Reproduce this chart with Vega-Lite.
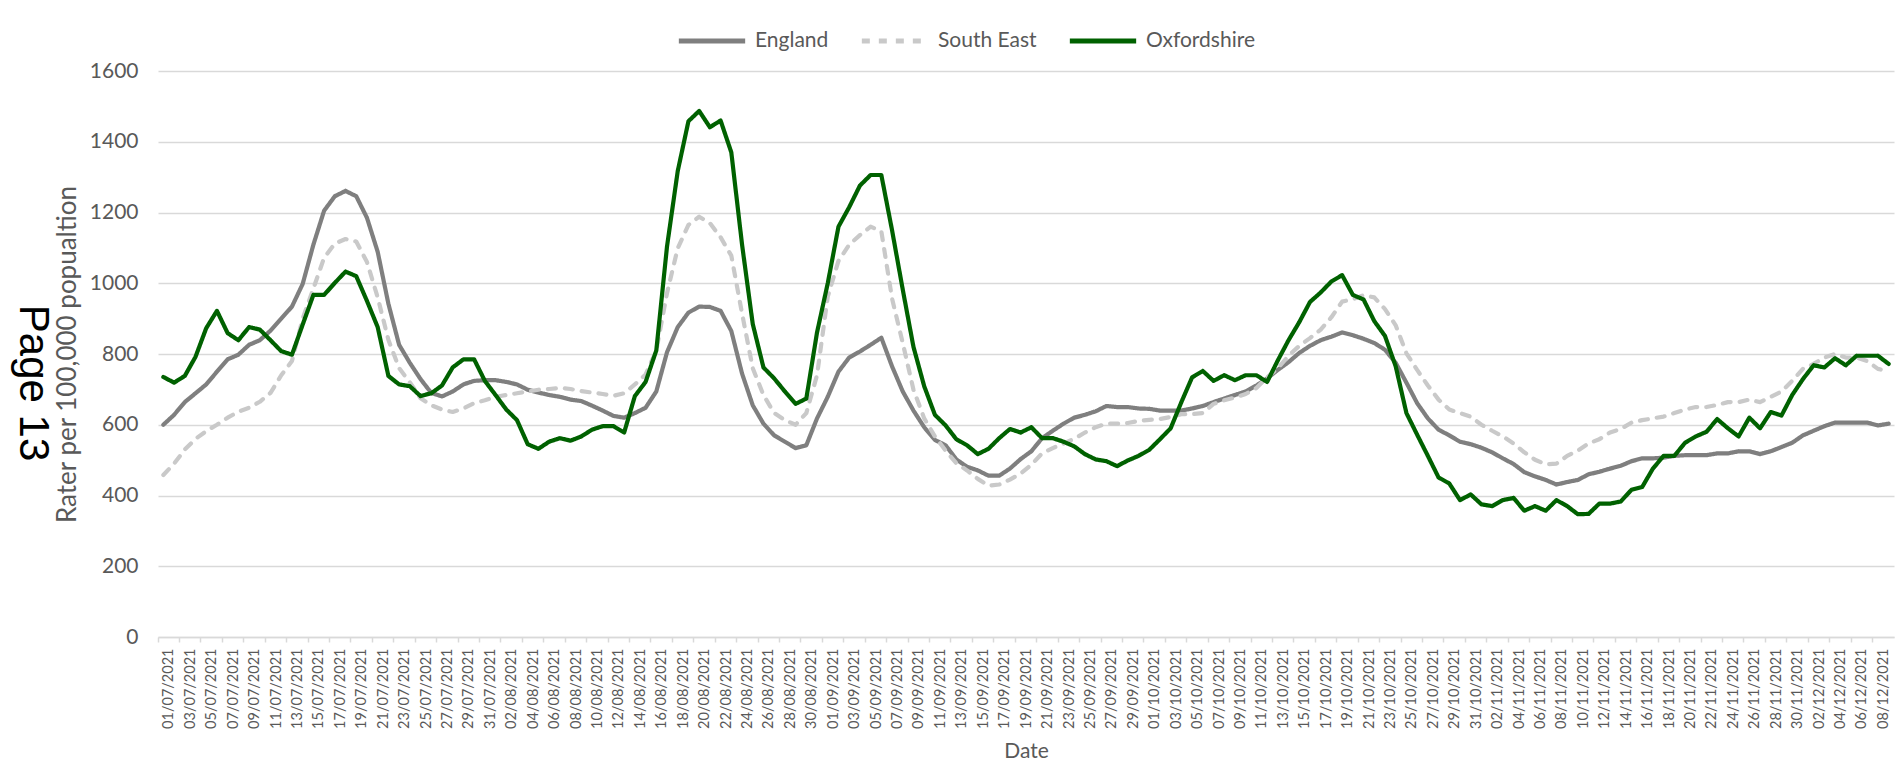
{
  "$schema": "https://vega.github.io/schema/vega-lite/v6.json",
  "width": 1736,
  "height": 566,
  "autosize": "none",
  "padding": {"left": 158, "top": 71, "right": 6, "bottom": 126},
  "background": "white",
  "title": {"text": "Page 13", "orient": "left", "angle": 90, "baseline": "top", "align": "center", "fontSize": 42, "font": "Liberation Sans", "fontWeight": "normal", "color": "#000000", "offset": -41, "dx": 29},
  "data": {"values": [
    {"date": "01/07/2021", "England": 600, "South East": 458, "Oxfordshire": 735},
    {"date": "02/07/2021", "England": 628, "South East": 490, "Oxfordshire": 719},
    {"date": "03/07/2021", "England": 664, "South East": 530, "Oxfordshire": 738},
    {"date": "04/07/2021", "England": 689, "South East": 560, "Oxfordshire": 792},
    {"date": "05/07/2021", "England": 714, "South East": 582, "Oxfordshire": 873},
    {"date": "06/07/2021", "England": 750, "South East": 600, "Oxfordshire": 922},
    {"date": "07/07/2021", "England": 785, "South East": 620, "Oxfordshire": 859},
    {"date": "08/07/2021", "England": 798, "South East": 637, "Oxfordshire": 839},
    {"date": "09/07/2021", "England": 826, "South East": 648, "Oxfordshire": 876},
    {"date": "10/07/2021", "England": 839, "South East": 665, "Oxfordshire": 869},
    {"date": "11/07/2021", "England": 866, "South East": 690, "Oxfordshire": 839},
    {"date": "12/07/2021", "England": 900, "South East": 740, "Oxfordshire": 808},
    {"date": "13/07/2021", "England": 934, "South East": 780, "Oxfordshire": 798},
    {"date": "14/07/2021", "England": 998, "South East": 900, "Oxfordshire": 883},
    {"date": "15/07/2021", "England": 1109, "South East": 985, "Oxfordshire": 967},
    {"date": "16/07/2021", "England": 1205, "South East": 1072, "Oxfordshire": 967},
    {"date": "17/07/2021", "England": 1246, "South East": 1112, "Oxfordshire": 1001},
    {"date": "18/07/2021", "England": 1261, "South East": 1125, "Oxfordshire": 1033},
    {"date": "19/07/2021", "England": 1246, "South East": 1118, "Oxfordshire": 1020},
    {"date": "20/07/2021", "England": 1185, "South East": 1060, "Oxfordshire": 950},
    {"date": "21/07/2021", "England": 1089, "South East": 960, "Oxfordshire": 876},
    {"date": "22/07/2021", "England": 942, "South East": 840, "Oxfordshire": 738},
    {"date": "23/07/2021", "England": 826, "South East": 760, "Oxfordshire": 714},
    {"date": "24/07/2021", "England": 775, "South East": 720, "Oxfordshire": 709},
    {"date": "25/07/2021", "England": 729, "South East": 675, "Oxfordshire": 681},
    {"date": "26/07/2021", "England": 690, "South East": 655, "Oxfordshire": 689},
    {"date": "27/07/2021", "England": 680, "South East": 643, "Oxfordshire": 711},
    {"date": "28/07/2021", "England": 694, "South East": 636, "Oxfordshire": 762},
    {"date": "29/07/2021", "England": 714, "South East": 646, "Oxfordshire": 785},
    {"date": "30/07/2021", "England": 724, "South East": 661, "Oxfordshire": 785},
    {"date": "31/07/2021", "England": 726, "South East": 669, "Oxfordshire": 724},
    {"date": "01/08/2021", "England": 726, "South East": 679, "Oxfordshire": 684},
    {"date": "02/08/2021", "England": 721, "South East": 684, "Oxfordshire": 643},
    {"date": "03/08/2021", "England": 714, "South East": 689, "Oxfordshire": 613},
    {"date": "04/08/2021", "England": 699, "South East": 694, "Oxfordshire": 545},
    {"date": "05/08/2021", "England": 691, "South East": 699, "Oxfordshire": 532},
    {"date": "06/08/2021", "England": 684, "South East": 701, "Oxfordshire": 552},
    {"date": "07/08/2021", "England": 679, "South East": 704, "Oxfordshire": 562},
    {"date": "08/08/2021", "England": 671, "South East": 701, "Oxfordshire": 555},
    {"date": "09/08/2021", "England": 667, "South East": 695, "Oxfordshire": 567},
    {"date": "10/08/2021", "England": 654, "South East": 691, "Oxfordshire": 586},
    {"date": "11/08/2021", "England": 640, "South East": 687, "Oxfordshire": 596},
    {"date": "12/08/2021", "England": 625, "South East": 682, "Oxfordshire": 596},
    {"date": "13/08/2021", "England": 620, "South East": 689, "Oxfordshire": 578},
    {"date": "14/08/2021", "England": 633, "South East": 714, "Oxfordshire": 681},
    {"date": "15/08/2021", "England": 648, "South East": 742, "Oxfordshire": 721},
    {"date": "16/08/2021", "England": 694, "South East": 810, "Oxfordshire": 810},
    {"date": "17/08/2021", "England": 805, "South East": 972, "Oxfordshire": 1104},
    {"date": "18/08/2021", "England": 876, "South East": 1099, "Oxfordshire": 1317},
    {"date": "19/08/2021", "England": 917, "South East": 1165, "Oxfordshire": 1458},
    {"date": "20/08/2021", "England": 934, "South East": 1188, "Oxfordshire": 1487},
    {"date": "21/08/2021", "England": 933, "South East": 1170, "Oxfordshire": 1441},
    {"date": "22/08/2021", "England": 922, "South East": 1130, "Oxfordshire": 1460},
    {"date": "23/08/2021", "England": 865, "South East": 1078, "Oxfordshire": 1370},
    {"date": "24/08/2021", "England": 745, "South East": 915, "Oxfordshire": 1110},
    {"date": "25/08/2021", "England": 655, "South East": 760, "Oxfordshire": 885},
    {"date": "26/08/2021", "England": 603, "South East": 684, "Oxfordshire": 762},
    {"date": "27/08/2021", "England": 570, "South East": 633, "Oxfordshire": 731},
    {"date": "28/08/2021", "England": 552, "South East": 613, "Oxfordshire": 694},
    {"date": "29/08/2021", "England": 534, "South East": 600, "Oxfordshire": 659},
    {"date": "30/08/2021", "England": 542, "South East": 633, "Oxfordshire": 674},
    {"date": "31/08/2021", "England": 618, "South East": 740, "Oxfordshire": 861},
    {"date": "01/09/2021", "England": 679, "South East": 962, "Oxfordshire": 1000},
    {"date": "02/09/2021", "England": 750, "South East": 1063, "Oxfordshire": 1160},
    {"date": "03/09/2021", "England": 790, "South East": 1109, "Oxfordshire": 1215},
    {"date": "04/09/2021", "England": 807, "South East": 1136, "Oxfordshire": 1276},
    {"date": "05/09/2021", "England": 826, "South East": 1160, "Oxfordshire": 1306},
    {"date": "06/09/2021", "England": 846, "South East": 1147, "Oxfordshire": 1306},
    {"date": "07/09/2021", "England": 765, "South East": 957, "Oxfordshire": 1150},
    {"date": "08/09/2021", "England": 694, "South East": 831, "Oxfordshire": 982},
    {"date": "09/09/2021", "England": 640, "South East": 699, "Oxfordshire": 820},
    {"date": "10/09/2021", "England": 593, "South East": 618, "Oxfordshire": 709},
    {"date": "11/09/2021", "England": 557, "South East": 567, "Oxfordshire": 628},
    {"date": "12/09/2021", "England": 542, "South East": 527, "Oxfordshire": 598},
    {"date": "13/09/2021", "England": 502, "South East": 491, "Oxfordshire": 559},
    {"date": "14/09/2021", "England": 481, "South East": 471, "Oxfordshire": 542},
    {"date": "15/09/2021", "England": 471, "South East": 447, "Oxfordshire": 517},
    {"date": "16/09/2021", "England": 456, "South East": 428, "Oxfordshire": 532},
    {"date": "17/09/2021", "England": 456, "South East": 431, "Oxfordshire": 562},
    {"date": "18/09/2021", "England": 476, "South East": 445, "Oxfordshire": 588},
    {"date": "19/09/2021", "England": 503, "South East": 462, "Oxfordshire": 578},
    {"date": "20/09/2021", "England": 525, "South East": 487, "Oxfordshire": 593},
    {"date": "21/09/2021", "England": 562, "South East": 519, "Oxfordshire": 562},
    {"date": "22/09/2021", "England": 583, "South East": 534, "Oxfordshire": 562},
    {"date": "23/09/2021", "England": 603, "South East": 547, "Oxfordshire": 552},
    {"date": "24/09/2021", "England": 620, "South East": 560, "Oxfordshire": 539},
    {"date": "25/09/2021", "England": 628, "South East": 578, "Oxfordshire": 517},
    {"date": "26/09/2021", "England": 638, "South East": 593, "Oxfordshire": 502},
    {"date": "27/09/2021", "England": 653, "South East": 603, "Oxfordshire": 497},
    {"date": "28/09/2021", "England": 650, "South East": 603, "Oxfordshire": 483},
    {"date": "29/09/2021", "England": 650, "South East": 605, "Oxfordshire": 499},
    {"date": "30/09/2021", "England": 646, "South East": 611, "Oxfordshire": 512},
    {"date": "01/10/2021", "England": 645, "South East": 614, "Oxfordshire": 529},
    {"date": "02/10/2021", "England": 640, "South East": 616, "Oxfordshire": 559},
    {"date": "03/10/2021", "England": 640, "South East": 622, "Oxfordshire": 590},
    {"date": "04/10/2021", "England": 640, "South East": 630, "Oxfordshire": 664},
    {"date": "05/10/2021", "England": 646, "South East": 630, "Oxfordshire": 734},
    {"date": "06/10/2021", "England": 653, "South East": 633, "Oxfordshire": 752},
    {"date": "07/10/2021", "England": 664, "South East": 659, "Oxfordshire": 724},
    {"date": "08/10/2021", "England": 674, "South East": 669, "Oxfordshire": 740},
    {"date": "09/10/2021", "England": 684, "South East": 677, "Oxfordshire": 726},
    {"date": "10/10/2021", "England": 694, "South East": 687, "Oxfordshire": 740},
    {"date": "11/10/2021", "England": 711, "South East": 704, "Oxfordshire": 740},
    {"date": "12/10/2021", "England": 731, "South East": 734, "Oxfordshire": 721},
    {"date": "13/10/2021", "England": 755, "South East": 760, "Oxfordshire": 782},
    {"date": "14/10/2021", "England": 777, "South East": 795, "Oxfordshire": 839},
    {"date": "15/10/2021", "England": 803, "South East": 823, "Oxfordshire": 890},
    {"date": "16/10/2021", "England": 823, "South East": 845, "Oxfordshire": 947},
    {"date": "17/10/2021", "England": 839, "South East": 869, "Oxfordshire": 974},
    {"date": "18/10/2021", "England": 849, "South East": 904, "Oxfordshire": 1005},
    {"date": "19/10/2021", "England": 861, "South East": 948, "Oxfordshire": 1023},
    {"date": "20/10/2021", "England": 853, "South East": 955, "Oxfordshire": 967},
    {"date": "21/10/2021", "England": 843, "South East": 966, "Oxfordshire": 954},
    {"date": "22/10/2021", "England": 831, "South East": 960, "Oxfordshire": 893},
    {"date": "23/10/2021", "England": 812, "South East": 927, "Oxfordshire": 851},
    {"date": "24/10/2021", "England": 775, "South East": 881, "Oxfordshire": 765},
    {"date": "25/10/2021", "England": 719, "South East": 802, "Oxfordshire": 633},
    {"date": "26/10/2021", "England": 661, "South East": 755, "Oxfordshire": 572},
    {"date": "27/10/2021", "England": 618, "South East": 711, "Oxfordshire": 512},
    {"date": "28/10/2021", "England": 586, "South East": 671, "Oxfordshire": 451},
    {"date": "29/10/2021", "England": 570, "South East": 643, "Oxfordshire": 434},
    {"date": "30/10/2021", "England": 552, "South East": 633, "Oxfordshire": 387},
    {"date": "31/10/2021", "England": 545, "South East": 623, "Oxfordshire": 403},
    {"date": "01/11/2021", "England": 535, "South East": 600, "Oxfordshire": 375},
    {"date": "02/11/2021", "England": 522, "South East": 583, "Oxfordshire": 370},
    {"date": "03/11/2021", "England": 505, "South East": 567, "Oxfordshire": 387},
    {"date": "04/11/2021", "England": 489, "South East": 547, "Oxfordshire": 393},
    {"date": "05/11/2021", "England": 466, "South East": 522, "Oxfordshire": 357},
    {"date": "06/11/2021", "England": 454, "South East": 501, "Oxfordshire": 370},
    {"date": "07/11/2021", "England": 444, "South East": 488, "Oxfordshire": 357},
    {"date": "08/11/2021", "England": 431, "South East": 490, "Oxfordshire": 387},
    {"date": "09/11/2021", "England": 438, "South East": 512, "Oxfordshire": 370},
    {"date": "10/11/2021", "England": 444, "South East": 527, "Oxfordshire": 347},
    {"date": "11/11/2021", "England": 460, "South East": 547, "Oxfordshire": 348},
    {"date": "12/11/2021", "England": 467, "South East": 559, "Oxfordshire": 377},
    {"date": "13/11/2021", "England": 476, "South East": 578, "Oxfordshire": 377},
    {"date": "14/11/2021", "England": 484, "South East": 588, "Oxfordshire": 383},
    {"date": "15/11/2021", "England": 497, "South East": 606, "Oxfordshire": 416},
    {"date": "16/11/2021", "England": 505, "South East": 613, "Oxfordshire": 424},
    {"date": "17/11/2021", "England": 505, "South East": 618, "Oxfordshire": 476},
    {"date": "18/11/2021", "England": 507, "South East": 623, "Oxfordshire": 512},
    {"date": "19/11/2021", "England": 512, "South East": 633, "Oxfordshire": 512},
    {"date": "20/11/2021", "England": 514, "South East": 643, "Oxfordshire": 549},
    {"date": "21/11/2021", "England": 514, "South East": 650, "Oxfordshire": 567},
    {"date": "22/11/2021", "England": 514, "South East": 650, "Oxfordshire": 580},
    {"date": "23/11/2021", "England": 519, "South East": 656, "Oxfordshire": 616},
    {"date": "24/11/2021", "England": 519, "South East": 664, "Oxfordshire": 590},
    {"date": "25/11/2021", "England": 525, "South East": 664, "Oxfordshire": 567},
    {"date": "26/11/2021", "England": 525, "South East": 671, "Oxfordshire": 620},
    {"date": "27/11/2021", "England": 517, "South East": 664, "Oxfordshire": 590},
    {"date": "28/11/2021", "England": 525, "South East": 679, "Oxfordshire": 636},
    {"date": "29/11/2021", "England": 537, "South East": 694, "Oxfordshire": 626},
    {"date": "30/11/2021", "England": 549, "South East": 724, "Oxfordshire": 684},
    {"date": "01/12/2021", "England": 570, "South East": 758, "Oxfordshire": 729},
    {"date": "02/12/2021", "England": 583, "South East": 772, "Oxfordshire": 768},
    {"date": "03/12/2021", "England": 596, "South East": 790, "Oxfordshire": 762},
    {"date": "04/12/2021", "England": 606, "South East": 800, "Oxfordshire": 788},
    {"date": "05/12/2021", "England": 606, "South East": 790, "Oxfordshire": 768},
    {"date": "06/12/2021", "England": 606, "South East": 790, "Oxfordshire": 795},
    {"date": "07/12/2021", "England": 606, "South East": 780, "Oxfordshire": 795},
    {"date": "08/12/2021", "England": 598, "South East": 758, "Oxfordshire": 795},
    {"date": "09/12/2021", "England": 603, "South East": 750, "Oxfordshire": 772}
  ]},
  "transform": [
    {"fold": ["England", "South East", "Oxfordshire"], "as": ["series", "rate"]}
  ],
  "mark": {"type": "line", "strokeWidth": 4.2, "strokeCap": "round", "strokeJoin": "round"},
  "encoding": {
    "x": {
      "field": "date", "type": "ordinal", "sort": null, "bandPosition": 0.5,
      "scale": {"type": "band", "paddingInner": 0, "paddingOuter": 0},
      "axis": {
        "title": "Date",
        "values": ["01/07/2021","03/07/2021","05/07/2021","07/07/2021","09/07/2021","11/07/2021","13/07/2021","15/07/2021","17/07/2021","19/07/2021","21/07/2021","23/07/2021","25/07/2021","27/07/2021","29/07/2021","31/07/2021","02/08/2021","04/08/2021","06/08/2021","08/08/2021","10/08/2021","12/08/2021","14/08/2021","16/08/2021","18/08/2021","20/08/2021","22/08/2021","24/08/2021","26/08/2021","28/08/2021","30/08/2021","01/09/2021","03/09/2021","05/09/2021","07/09/2021","09/09/2021","11/09/2021","13/09/2021","15/09/2021","17/09/2021","19/09/2021","21/09/2021","23/09/2021","25/09/2021","27/09/2021","29/09/2021","01/10/2021","03/10/2021","05/10/2021","07/10/2021","09/10/2021","11/10/2021","13/10/2021","15/10/2021","17/10/2021","19/10/2021","21/10/2021","23/10/2021","25/10/2021","27/10/2021","29/10/2021","31/10/2021","02/11/2021","04/11/2021","06/11/2021","08/11/2021","10/11/2021","12/11/2021","14/11/2021","16/11/2021","18/11/2021","20/11/2021","22/11/2021","24/11/2021","26/11/2021","28/11/2021","30/11/2021","02/12/2021","04/12/2021","06/12/2021","08/12/2021"],
        "bandPosition": 0,
        "labelAngle": -90,
        "labelOffset": 6,
        "labelFontSize": 14.5,
        "labelFont": "Lato",
        "labelColor": "#595959",
        "labelPadding": 6,
        "tickSize": 5,
        "tickColor": "#d9d9d9",
        "tickWidth": 1.5,
        "domainColor": "#d9d9d9",
        "domainWidth": 1.5,
        "grid": false,
        "titleFont": "Lato",
        "titleFontSize": 21,
        "titleFontWeight": "normal",
        "titleColor": "#595959",
        "titlePadding": 12
      }
    },
    "y": {
      "field": "rate", "type": "quantitative",
      "scale": {"domain": [0, 1600], "nice": false, "zero": true},
      "axis": {
        "title": "Rater per 100,000 popualtion",
        "values": [0, 200, 400, 600, 800, 1000, 1200, 1400, 1600],
        "format": "d",
        "grid": true,
        "gridColor": "#d9d9d9",
        "gridWidth": 1.4,
        "domain": false,
        "ticks": false,
        "labelFont": "Lato",
        "labelFontSize": 21,
        "labelColor": "#595959",
        "labelPadding": 20,
        "titleFont": "Lato",
        "titleFontSize": 26,
        "titleFontWeight": "normal",
        "titleColor": "#595959",
        "titlePadding": 9
      }
    },
    "color": {
      "field": "series", "type": "nominal",
      "scale": {"domain": ["England", "South East", "Oxfordshire"], "range": ["#7f7f7f", "#c9c9c9", "#006100"]},
      "legend": {
        "title": null,
        "orient": "none",
        "direction": "horizontal",
        "legendX": 518,
        "legendY": -66,
        "symbolType": "stroke",
        "symbolSize": 4400,
        "symbolStrokeWidth": 5,
        "labelFont": "Lato",
        "labelFontSize": 21,
        "labelColor": "#595959",
        "labelOffset": 7,
        "columnPadding": 22,
        "padding": 0
      }
    },
    "strokeDash": {
      "field": "series", "type": "nominal",
      "scale": {"domain": ["England", "South East", "Oxfordshire"], "range": [[1, 0], [8, 9], [1, 0]]},
      "legend": null
    }
  },
  "config": {
    "view": {"stroke": null}
  }
}
